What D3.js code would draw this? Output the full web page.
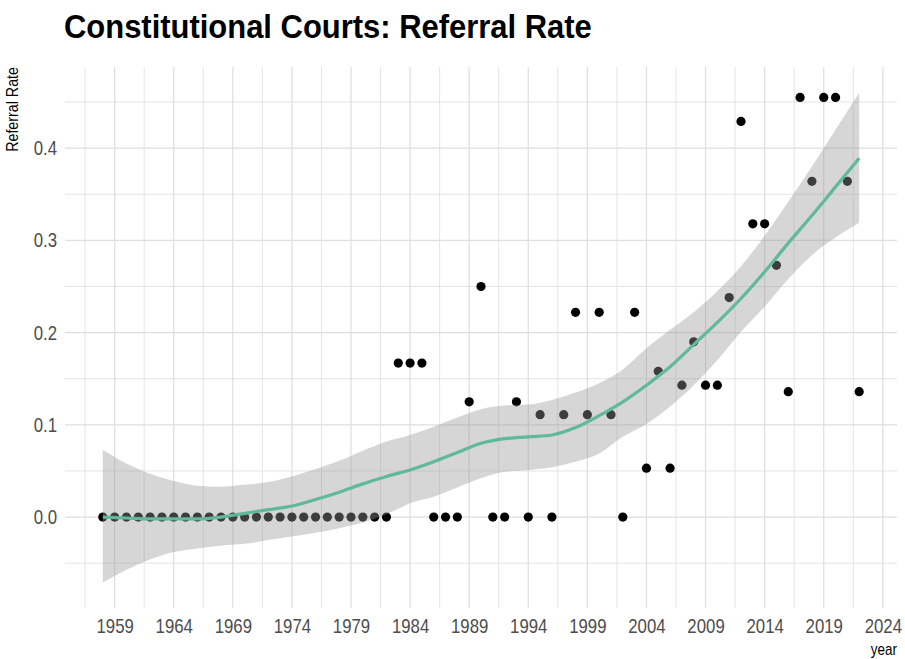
<!DOCTYPE html>
<html lang="en">

<head>
    <meta charset="UTF-8">
    <title>Constitutional Courts: Referral Rate</title>
    <script src="https://cdn.jsdelivr.net/npm/d3@7"></script>
    <style>
        body { margin: 0; background: #fff; }
        text { font-family: "Liberation Sans", Arial, sans-serif; }
    </style>
</head>

<body>
    <div id="my_dataviz"></div>

    <script>
        // observed referral rate per year
        var years = d3.range(1958, 2023);
        var rates = [
            0, 0, 0, 0, 0, 0, 0, 0, 0, 0,          // 1958-1967
            0, 0, 0, 0, 0, 0, 0, 0, 0, 0,          // 1968-1977
            0, 0, 0, 0, 0,                         // 1978-1982
            0.167, 0.167, 0.167, 0, 0, 0,          // 1983-1988
            0.125, 0.25, 0, 0, 0.125, 0,           // 1989-1994
            0.111, 0, 0.111, 0.222, 0.111, 0.222,  // 1995-2000
            0.111, 0, 0.222, 0.053, 0.158, 0.053,  // 2001-2006
            0.143, 0.190, 0.143, 0.143, 0.238,     // 2007-2011
            0.429, 0.318, 0.318, 0.273, 0.136,     // 2012-2016
            0.455, 0.364, 0.455, 0.455, 0.364,     // 2017-2021
            0.136                                  // 2022
        ];

        // smoother (loess), every 2 years
        var fitYears = d3.range(1958, 2023, 2);
        var fit = [0.000, -0.001, -0.002, -0.002, -0.002, 0.000, 0.004, 0.008, 0.012, 0.019,
            0.027, 0.036, 0.044, 0.051, 0.060, 0.070, 0.080, 0.085, 0.087, 0.089,
            0.097, 0.110, 0.125, 0.143, 0.163, 0.187, 0.211, 0.237, 0.266, 0.297,
            0.327, 0.358, 0.389];
        var fitLow = [-0.071, -0.057, -0.046, -0.038, -0.034, -0.031, -0.029, -0.025, -0.021, -0.017,
            -0.012, -0.006, 0.003, 0.015, 0.022, 0.032, 0.042, 0.049, 0.051, 0.054,
            0.060, 0.069, 0.087, 0.101, 0.120, 0.143, 0.170, 0.201, 0.228, 0.258,
            0.284, 0.303, 0.319];
        var fitHigh = [0.073, 0.058, 0.047, 0.039, 0.034, 0.033, 0.035, 0.038, 0.044, 0.052,
            0.061, 0.072, 0.082, 0.089, 0.098, 0.108, 0.117, 0.121, 0.122, 0.127,
            0.135, 0.145, 0.160, 0.183, 0.203, 0.222, 0.245, 0.272, 0.305, 0.342,
            0.380, 0.420, 0.460];

        var xTicks = d3.range(1959, 2025, 5);
        var xMinor = d3.range(1956.5, 2025, 5);
        var yTicks = [0, 0.1, 0.2, 0.3, 0.4];
        var yMinor = [-0.05, 0.05, 0.15, 0.25, 0.35, 0.45];

        var width = 905, height = 659;
        var margin = { top: 67, right: 8, bottom: 51, left: 65 };

        var svg = d3.select("#my_dataviz")
            .append("svg")
            .attr("width", width)
            .attr("height", height);

        var x = d3.scaleLinear()
            .domain([1954.8, 2025.2])
            .range([margin.left, width - margin.right]);
        var y = d3.scaleLinear()
            .domain([-0.0986, 0.488])
            .range([height - margin.bottom, margin.top]);

        var squeeze = 0.84; // the original uses a narrow face

        // grid
        var grid = svg.append("g");
        grid.selectAll(".vmin").data(xMinor).enter().append("line")
            .attr("x1", d => x(d)).attr("x2", d => x(d))
            .attr("y1", y.range()[0]).attr("y2", y.range()[1])
            .attr("stroke", "#e4e4e4").attr("stroke-width", 1);
        grid.selectAll(".hmin").data(yMinor).enter().append("line")
            .attr("y1", d => y(d)).attr("y2", d => y(d))
            .attr("x1", x.range()[0]).attr("x2", x.range()[1])
            .attr("stroke", "#e4e4e4").attr("stroke-width", 1);
        grid.selectAll(".vmaj").data(xTicks).enter().append("line")
            .attr("x1", d => x(d)).attr("x2", d => x(d))
            .attr("y1", y.range()[0]).attr("y2", y.range()[1])
            .attr("stroke", "#dedede").attr("stroke-width", 1.2);
        grid.selectAll(".hmaj").data(yTicks).enter().append("line")
            .attr("y1", d => y(d)).attr("y2", d => y(d))
            .attr("x1", x.range()[0]).attr("x2", x.range()[1])
            .attr("stroke", "#dedede").attr("stroke-width", 1.2);

        // axes
        svg.append("g")
            .attr("transform", "translate(0," + y.range()[0] + ")")
            .call(d3.axisBottom(x).tickValues(xTicks).tickFormat(d3.format("d")).tickSize(0).tickPadding(11))
            .call(g => g.select(".domain").remove())
            .selectAll("text")
            .style("font-size", "20px")
            .attr("fill", "#4d4d4d")
            .attr("transform", "scale(" + squeeze + ",1)");

        svg.append("g")
            .attr("transform", "translate(" + (x.range()[0] - 8) + ",0)")
            .call(d3.axisLeft(y).tickValues(yTicks).tickFormat(d3.format(".1f")).tickSize(0).tickPadding(0))
            .call(g => g.select(".domain").remove())
            .selectAll("text")
            .style("font-size", "20px")
            .attr("fill", "#4d4d4d")
            .attr("transform", "scale(" + squeeze + ",1)");

        // points
        svg.append("g").selectAll("circle")
            .data(years)
            .enter()
            .append("circle")
            .attr("cx", d => x(d))
            .attr("cy", (d, i) => y(rates[i]))
            .attr("r", 4.6)
            .attr("fill", "black");

        // confidence band
        var band = d3.area()
            .x((d, i) => x(fitYears[i]))
            .y0((d, i) => y(fitLow[i]))
            .y1((d, i) => y(fitHigh[i]))
            .curve(d3.curveMonotoneX);
        svg.append("path")
            .datum(fit)
            .attr("d", band)
            .attr("fill", "#999999")
            .attr("fill-opacity", 0.4);

        var line = d3.line()
            .x((d, i) => x(fitYears[i]))
            .y(d => y(d))
            .curve(d3.curveMonotoneX);
        svg.append("path")
            .datum(fit)
            .attr("d", line)
            .attr("fill", "none")
            .attr("stroke", "#5fb99a")
            .attr("stroke-width", 3.2);

        // titles
        var title = svg.append("text")
            .attr("y", 38)
            .style("font-size", "34px")
            .style("font-weight", "bold")
            .attr("fill", "black")
            .text("Constitutional Courts: Referral Rate");
        var k = 528 / title.node().getComputedTextLength();
        title.attr("transform", "translate(64,0)scale(" + k + ",1)");

        svg.append("text")
            .attr("transform", "translate(18," + margin.top + ")rotate(-90)scale(" + squeeze + ",1)")
            .attr("text-anchor", "end")
            .style("font-size", "17px")
            .attr("fill", "black")
            .text("Referral Rate");

        svg.append("text")
            .attr("transform", "translate(" + x.range()[1] + ",655)scale(" + squeeze + ",1)")
            .attr("text-anchor", "end")
            .style("font-size", "16px")
            .attr("fill", "black")
            .text("year");
    </script>
</body>

</html>
